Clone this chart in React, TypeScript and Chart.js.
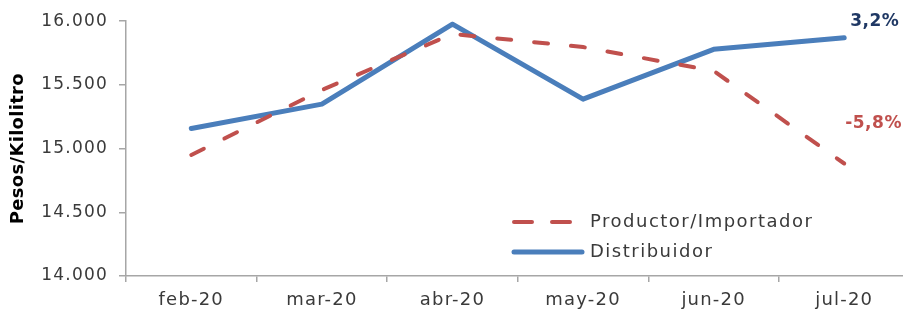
import React, { useEffect, useRef } from "react";
import { Chart, registerables } from "chart.js";

Chart.register(...registerables);

const categories = ["feb-20", "mar-20", "abr-20", "may-20", "jun-20", "jul-20"];
const productorValues = [14950, 15460, 15900, 15797, 15610, 14883];
const distribuidorValues = [15158, 15349, 15977, 15388, 15779, 15870];
const seriesNames = ["Productor/Importador", "Distribuidor"];
const endLabels = ["-5,8%", "3,2%"];
const yTicks = [14000, 14500, 15000, 15500, 16000];
const yTitle = "Pesos/Kilolitro";

const RED = "#c0504d";
const BLUE = "#4a7ebb";
const NAVY = "#1f3864";
const GREY = "#a6a6a6";
const TEXT = "#3a3a3a";
const FONT = "'DejaVu Sans', sans-serif";

const fmt = (v: number) => {
  const s = String(Math.round(v));
  return s.replace(/\B(?=(\d{3})+(?!\d))/g, ".");
};

const spacingPlugin = {
  id: "spacing",
  beforeDraw(chart: any) {
    (chart.ctx as any).letterSpacing = "1.2px";
  },
};

const overlayPlugin = {
  id: "overlay",
  afterDraw(chart: any) {
    const ctx = chart.ctx as any;
    ctx.save();
    // y title
    ctx.letterSpacing = "0.3px";
    ctx.font = `bold 18px ${FONT}`;
    ctx.fillStyle = "#000000";
    ctx.textAlign = "center";
    ctx.textBaseline = "middle";
    ctx.translate(18, (chart.chartArea.top + chart.chartArea.bottom) / 2);
    ctx.rotate(-Math.PI / 2);
    ctx.fillText(yTitle, 0, 0);
    ctx.restore();

    ctx.save();
    // end labels
    const offsets = [
      { dx: 1, dy: -40, color: RED },
      { dx: 6, dy: -16, color: NAVY },
    ];
    chart.data.datasets.forEach((ds: any, i: number) => {
      const meta = chart.getDatasetMeta(i);
      const last = meta.data[meta.data.length - 1];
      ctx.letterSpacing = "0.5px";
      ctx.font = `bold 17px ${FONT}`;
      ctx.fillStyle = offsets[i].color;
      ctx.textAlign = "left";
      ctx.textBaseline = "middle";
      ctx.fillText(endLabels[i], last.x + offsets[i].dx, last.y + offsets[i].dy);
    });
    // legend
    const lx0 = 512;
    const lx1 = 584;
    const rows = [222, 252];
    chart.data.datasets.forEach((ds: any, i: number) => {
      const y = rows[i];
      ctx.beginPath();
      ctx.strokeStyle = ds.borderColor;
      ctx.lineWidth = ds.borderWidth;
      ctx.lineCap = "round";
      ctx.setLineDash(i === 0 ? [18, 20] : []);
      ctx.moveTo(lx0 + 2, y);
      ctx.lineTo(lx1 - 2, y);
      ctx.stroke();
      ctx.setLineDash([]);
      ctx.letterSpacing = "1.5px";
      ctx.font = `18px ${FONT}`;
      ctx.fillStyle = TEXT;
      ctx.textAlign = "left";
      ctx.textBaseline = "middle";
      ctx.fillText(seriesNames[i], 590, y);
    });
    ctx.restore();
  },
};

export default function App() {
  const ref = useRef<HTMLCanvasElement | null>(null);
  useEffect(() => {
    if (!ref.current) return;
    const chart = new Chart(ref.current, {
      type: "line",
      data: {
        labels: categories,
        datasets: [
          {
            label: seriesNames[0],
            data: productorValues,
            borderColor: RED,
            backgroundColor: RED,
            borderWidth: 4,
            borderDash: [14, 23],
            borderCapStyle: "round",
            pointRadius: 0,
            tension: 0,
          },
          {
            label: seriesNames[1],
            data: distribuidorValues,
            borderColor: BLUE,
            backgroundColor: BLUE,
            borderWidth: 5,
            borderCapStyle: "round",
            borderJoinStyle: "round",
            pointRadius: 0,
            tension: 0,
          },
        ],
      },
      options: {
        animation: false,
        responsive: false,
        layout: { padding: { top: 20, right: 2.5, bottom: 0, left: 0 } },
        plugins: {
          legend: { display: false },
          tooltip: { enabled: false },
        },
        scales: {
          x: {
            offset: true,
            grid: {
              display: true,
              drawOnChartArea: false,
              offset: true,
              color: GREY,
              tickLength: 6,
              lineWidth: 1.5,
            },
            border: { color: GREY, width: 1.5 },
            ticks: {
              color: TEXT,
              font: { family: FONT, size: 18 },
              padding: 8,
              maxRotation: 0,
            },
            afterFit: (s: any) => {
              s.height = 38;
            },
          },
          y: {
            min: 14000,
            max: 16000,
            afterBuildTicks: (s: any) => {
              s.ticks = yTicks.map((v) => ({ value: v }));
            },
            grid: {
              display: true,
              drawOnChartArea: false,
              color: GREY,
              tickLength: 7,
              lineWidth: 1.5,
            },
            border: { color: GREY, width: 1.5 },
            ticks: {
              color: TEXT,
              font: { family: FONT, size: 17 },
              padding: 11,
              callback: (v: any) => fmt(Number(v)),
            },
            afterFit: (s: any) => {
              s.width = 126;
            },
          },
        },
      },
      plugins: [spacingPlugin, overlayPlugin],
    });
    return () => chart.destroy();
  }, []);
  return (
    <div
      style={{
        position: "fixed",
        left: 0,
        top: 0,
        width: 903,
        height: 314,
        overflow: "hidden",
        background: "#ffffff",
      }}
    >
      <canvas ref={ref} width={912} height={314} style={{ display: "block" }} />
    </div>
  );
}
